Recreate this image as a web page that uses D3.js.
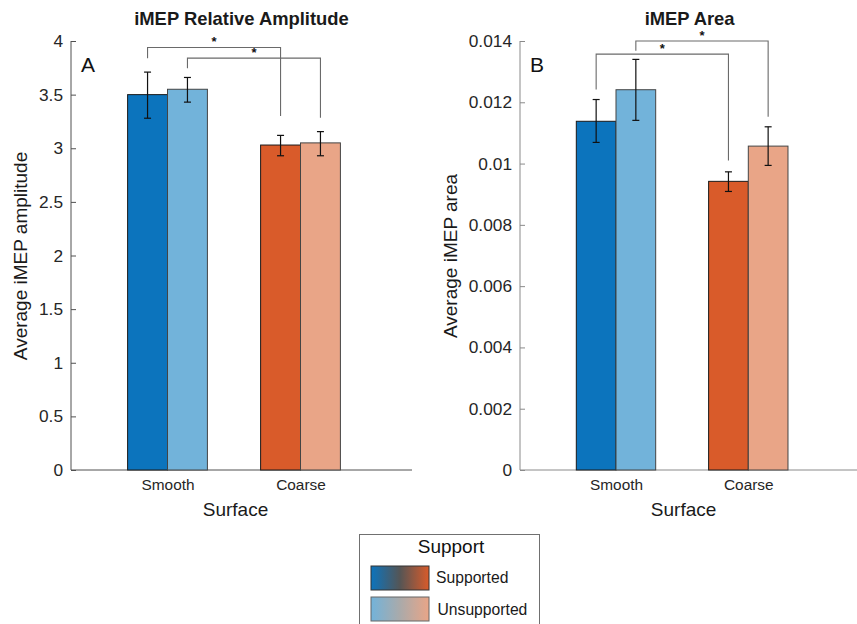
<!DOCTYPE html>
<html><head><meta charset="utf-8">
<script src="https://cdn.jsdelivr.net/npm/d3@7"></script>
<style>
body{margin:0;background:#fff;}
svg{font-family:"Liberation Sans",Arial,Helvetica,sans-serif;}
</style></head>
<body><svg id="chart" width="857" height="624"></svg>
<script>
// ---- Data ----
const categories = ["Smooth", "Coarse"];
const supportLevels = ["Supported", "Unsupported"];

// Panel A: iMEP relative amplitude
const ampSupported = [3.50, 3.03];
const ampSupportedLow = [3.28, 2.93];
const ampSupportedHigh = [3.71, 3.12];
const ampUnsupported = [3.55, 3.05];
const ampUnsupportedLow = [3.43, 2.93];
const ampUnsupportedHigh = [3.66, 3.155];
const ampTicks = [0, 0.5, 1, 1.5, 2, 2.5, 3, 3.5, 4];
// brackets: [support index, top, left leg end, right leg end]
const ampBrackets = [[0, 3.94, 3.84, 3.30], [1, 3.84, 3.745, 3.285]];

// Panel B: iMEP area
const areaSupported = [0.01138, 0.00942];
const areaSupportedLow = [0.01069, 0.00909];
const areaSupportedHigh = [0.01209, 0.00973];
const areaUnsupported = [0.01241, 0.01057];
const areaUnsupportedLow = [0.01141, 0.00994];
const areaUnsupportedHigh = [0.01340, 0.01120];
const areaTicks = [0, 0.002, 0.004, 0.006, 0.008, 0.010, 0.012, 0.014];
const areaBrackets = [[0, 0.013573, 0.01242, 0.0101], [1, 0.0140, 0.01368, 0.01153]];

const barColors = [["#0C74BD", "#72B3DA"], ["#D95B2A", "#E9A587"]];

const svg = d3.select("#chart");

function panel(opt) {
  const g = svg.append("g");
  const xDomain = [0.2744, 2.8384];
  const x = d3.scaleLinear().domain(xDomain).range([opt.left, opt.left + opt.unit * (xDomain[1] - xDomain[0])]);
  const xr = x.range()[1];
  const y = d3.scaleLinear().domain([0, opt.ymax]).range([470, 41]);
  const bw = 0.3;
  const series = [
    {m: opt.sup, lo: opt.supLo, hi: opt.supHi, s: 0},
    {m: opt.uns, lo: opt.unsLo, hi: opt.unsHi, s: 1}
  ];
  const bars = [];
  series.forEach(se => categories.forEach((c, i) => {
    bars.push({c: i, s: se.s, v: se.m[i], lo: se.lo[i], hi: se.hi[i],
      cx: (i + 1) + (se.s === 0 ? -bw / 2 : bw / 2)});
  }));

  // axes
  const ya = d3.axisLeft(y).tickValues(opt.ticks).tickSize(-5).tickPadding(8)
    .tickFormat(d => d3.format("~g")(+d.toFixed(6)));
  const yg = g.append("g").attr("transform", `translate(${opt.left},0)`).call(ya);
  yg.select(".domain").attr("stroke", opt.axisColor).attr("d", `M0,470V41`);
  yg.selectAll(".tick line").attr("stroke", opt.axisColor);
  yg.selectAll(".tick text").attr("fill", "#262626").style("font-size", "17.3px");

  const xa = d3.axisBottom(x).tickValues([1, 2]).tickSize(-4).tickPadding(9)
    .tickFormat((d, i) => categories[i]);
  const xg = g.append("g").attr("transform", "translate(0,470)").call(xa);
  xg.select(".domain").attr("stroke", opt.axisColor).attr("d", `M${opt.left},0H${xr}`);
  xg.selectAll(".tick line").attr("stroke", opt.axisColor);
  xg.selectAll(".tick text").attr("fill", "#262626").style("font-size", "15.4px");

  // bars
  g.selectAll("rect.bar").data(bars).enter().append("rect")
    .attr("x", d => x(d.cx - bw / 2)).attr("width", d => x(d.cx + bw / 2) - x(d.cx - bw / 2))
    .attr("y", d => y(d.v)).attr("height", d => y(0) - y(d.v))
    .attr("fill", d => barColors[d.c][d.s])
    .attr("stroke", d => d.s === 0 ? "#1a1a1a" : "#444").attr("stroke-width", 1);

  // error bars
  const eb = g.selectAll("g.err").data(bars).enter().append("g").attr("stroke", "#111").attr("stroke-width", 1.2);
  eb.append("line").attr("x1", d => x(d.cx)).attr("x2", d => x(d.cx)).attr("y1", d => y(d.lo)).attr("y2", d => y(d.hi));
  eb.append("line").attr("x1", d => x(d.cx) - 3.5).attr("x2", d => x(d.cx) + 3.5).attr("y1", d => y(d.lo)).attr("y2", d => y(d.lo));
  eb.append("line").attr("x1", d => x(d.cx) - 3.5).attr("x2", d => x(d.cx) + 3.5).attr("y1", d => y(d.hi)).attr("y2", d => y(d.hi));

  // significance brackets
  opt.brackets.forEach(b => {
    const s = b[0];
    const off = s === 0 ? -bw / 2 : bw / 2;
    const x1 = x(1 + off), x2 = x(2 + off);
    g.append("path").attr("fill", "none").attr("stroke", "#6a6a6a").attr("stroke-width", 1.1)
      .attr("d", `M${x1},${y(b[2])}V${y(b[1])}H${x2}V${y(b[3])}`);
    g.append("text").attr("x", (x1 + x2) / 2).attr("y", y(b[1]) - 1).attr("text-anchor", "middle")
      .style("font-size", "13px").style("font-weight", "bold").attr("fill", "#111").text("*");
  });

  // titles and labels
  const mid = (opt.left + xr) / 2;
  g.append("text").attr("x", mid).attr("y", 25).attr("text-anchor", "middle")
    .style("font-size", "18.4px").style("font-weight", "bold").attr("fill", "#1a1a1a").text(opt.title);
  g.append("text").attr("x", opt.left + 10).attr("y", 72).style("font-size", "21px").attr("fill", "#111").text(opt.letter);
  g.append("text").attr("x", mid - 6).attr("y", 516).attr("text-anchor", "middle")
    .style("font-size", "19px").attr("fill", "#1a1a1a").text("Surface");
  g.append("text").attr("transform", `translate(${opt.ylabX},256) rotate(-90)`).attr("text-anchor", "middle")
    .style("font-size", "19px").attr("fill", "#1a1a1a").text(opt.ylabel);
}

panel({left: 71, unit: 133, ymax: 4, ticks: ampTicks, title: "iMEP Relative Amplitude", letter: "A",
  ylabel: "Average iMEP amplitude", ylabX: 27, axisColor: "#505050",
  sup: ampSupported, supLo: ampSupportedLow, supHi: ampSupportedHigh,
  uns: ampUnsupported, unsLo: ampUnsupportedLow, unsHi: ampUnsupportedHigh, brackets: ampBrackets});

panel({left: 520, unit: 132.3, ymax: 0.014, ticks: areaTicks, title: "iMEP Area", letter: "B",
  ylabel: "Average iMEP area", ylabX: 457, axisColor: "#8a8a8a",
  sup: areaSupported, supLo: areaSupportedLow, supHi: areaSupportedHigh,
  uns: areaUnsupported, unsLo: areaUnsupportedLow, unsHi: areaUnsupportedHigh, brackets: areaBrackets});

// legend
const defs = svg.append("defs");
const grads = [["#0C74BD", "#555555", "#D95B2A"], ["#72B3DA", "#AAAAAA", "#E9A587"]];
grads.forEach((cs, i) => {
  const lg = defs.append("linearGradient").attr("id", "lg" + i);
  cs.forEach((c, j) => lg.append("stop").attr("offset", (j / (cs.length - 1) * 100) + "%").attr("stop-color", c));
});
const leg = svg.append("g");
leg.append("rect").attr("x", 359.5).attr("y", 534.5).attr("width", 180).attr("height", 95)
  .attr("fill", "#fff").attr("stroke", "#707070");
leg.append("text").attr("x", 451).attr("y", 553).attr("text-anchor", "middle")
  .style("font-size", "19px").attr("fill", "#111").text("Support");
supportLevels.forEach((s, i) => {
  leg.append("rect").attr("x", 371).attr("y", 566 + i * 31).attr("width", 58).attr("height", 24)
    .attr("fill", `url(#lg${i})`).attr("stroke", i === 0 ? "#333" : "#666");
  leg.append("text").attr("x", 436 + i * 1.5).attr("y", 583 + i * 32).style("font-size", "15.7px").attr("fill", "#1a1a1a").text(s);
});
</script></body></html>
